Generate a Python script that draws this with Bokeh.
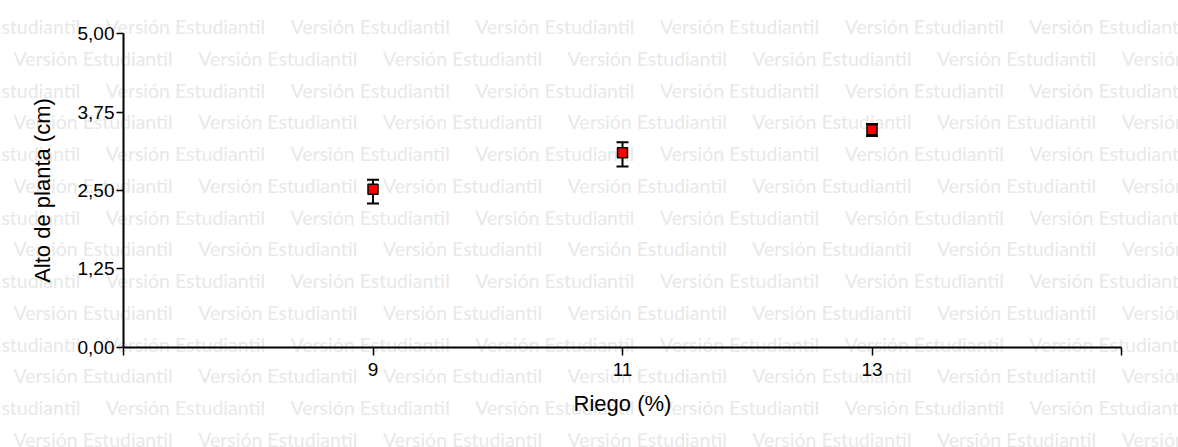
from bokeh.plotting import figure
from bokeh.models import ColumnDataSource, Whisker, TeeHead, FixedTicker, Label, Range1d
from bokeh.embed import file_html
from bokeh.resources import INLINE

# ---- data ----
riego = [9, 11, 13]
alto = [2.52, 3.10, 3.47]
alto_inf = [2.29, 2.88, 3.37]
alto_sup = [2.67, 3.27, 3.56]

x_ticks = [7, 9, 11, 13, 15]
x_tick_labels = ["", "9", "11", "13", ""]
y_ticks = [0, 1.25, 2.5, 3.75, 5]
y_tick_labels = ["0,00", "1,25", "2,50", "3,75", "5,00"]
x_bounds = (7, 15)
y_bounds = (0, 5)

x_title = "Riego (%)"
y_title = "Alto de planta (cm)"
watermark = "Versión Estudiantil"

# ---- layout (pixels) ----
W, H = 1178, 447
AX_LEFT, AX_RIGHT = 123.0, 1121.0      # pixel columns of x = 7 and x = 15
AX_TOP, AX_BOTTOM = 33.3, 346.5        # pixel rows of y = 5 and y = 0

sx = (AX_RIGHT - AX_LEFT) / (x_bounds[1] - x_bounds[0])
sy = (AX_BOTTOM - AX_TOP) / (y_bounds[1] - y_bounds[0])
x_range = Range1d(x_bounds[0] - AX_LEFT / sx, x_bounds[1] + (W - AX_RIGHT) / sx)
y_range = Range1d(y_bounds[0] - (H - AX_BOTTOM) / sy, y_bounds[1] + AX_TOP / sy)

src = ColumnDataSource(dict(x=riego, y=alto, lo=alto_inf, hi=alto_sup))

p = figure(width=W, height=H, output_backend="svg", toolbar_location=None,
           x_range=x_range, y_range=y_range,
           min_border_left=0, min_border_right=0, min_border_top=0, min_border_bottom=0)
p.outline_line_color = None
p.grid.visible = False
p.background_fill_color = "white"
p.border_fill_color = "white"

# watermark, tiled over the whole canvas (frame == canvas)
period = 184.7
for r in range(14):
    yb = 26 + r * 31.75
    start = 13 if r % 2 == 1 else 13 - period / 2
    k = 0
    while start + k * period < W:
        xp = start + k * period
        p.add_layout(Label(x=xp, y=H - yb, x_units="screen", y_units="screen", text=watermark,
                           text_font="Lato", text_font_size="19.5px", text_color="#e8e8e8",
                           text_baseline="alphabetic", text_align="left", level="image"))
        k += 1

w = Whisker(source=src, base="x", lower="lo", upper="hi", dimension="height",
            line_color="black", line_width=2, level="underlay",
            upper_head=TeeHead(size=12, line_width=2, line_color="black"),
            lower_head=TeeHead(size=12, line_width=2, line_color="black"))
p.add_layout(w)

p.scatter("x", "y", source=src, marker="square", size=10,
          fill_color="#ff0000", line_color="black", line_width=1.5)

for ax in (p.xaxis[0], p.yaxis[0]):
    ax.axis_line_width = 2
    ax.axis_line_color = "black"
    ax.major_tick_line_width = 1.5
    ax.major_tick_line_color = "black"
    ax.major_tick_in = 0
    ax.minor_tick_line_color = None
    ax.major_label_text_font = "Liberation Sans"
    ax.major_label_text_font_size = "19px"
    ax.major_label_text_color = "black"
    ax.axis_label_text_font = "Liberation Sans"
    ax.axis_label_text_font_size = "22px"
    ax.axis_label_text_font_style = "normal"
    ax.axis_label_text_color = "black"

xa = p.xaxis[0]
xa.fixed_location = y_bounds[0]
xa.bounds = x_bounds
xa.ticker = FixedTicker(ticks=x_ticks)
xa.major_label_overrides = dict(zip(x_ticks, x_tick_labels))
xa.major_tick_out = 8
xa.major_label_standoff = 8
xa.axis_label = x_title
xa.axis_label_standoff = 11

ya = p.yaxis[0]
ya.fixed_location = x_bounds[0]
ya.bounds = y_bounds
ya.ticker = FixedTicker(ticks=y_ticks)
ya.major_label_overrides = dict(zip(y_ticks, y_tick_labels))
ya.major_tick_out = 7
ya.major_label_standoff = 2
ya.axis_label = y_title
ya.axis_label_standoff = 20

open("out.html", "w").write(file_html(p, INLINE))
